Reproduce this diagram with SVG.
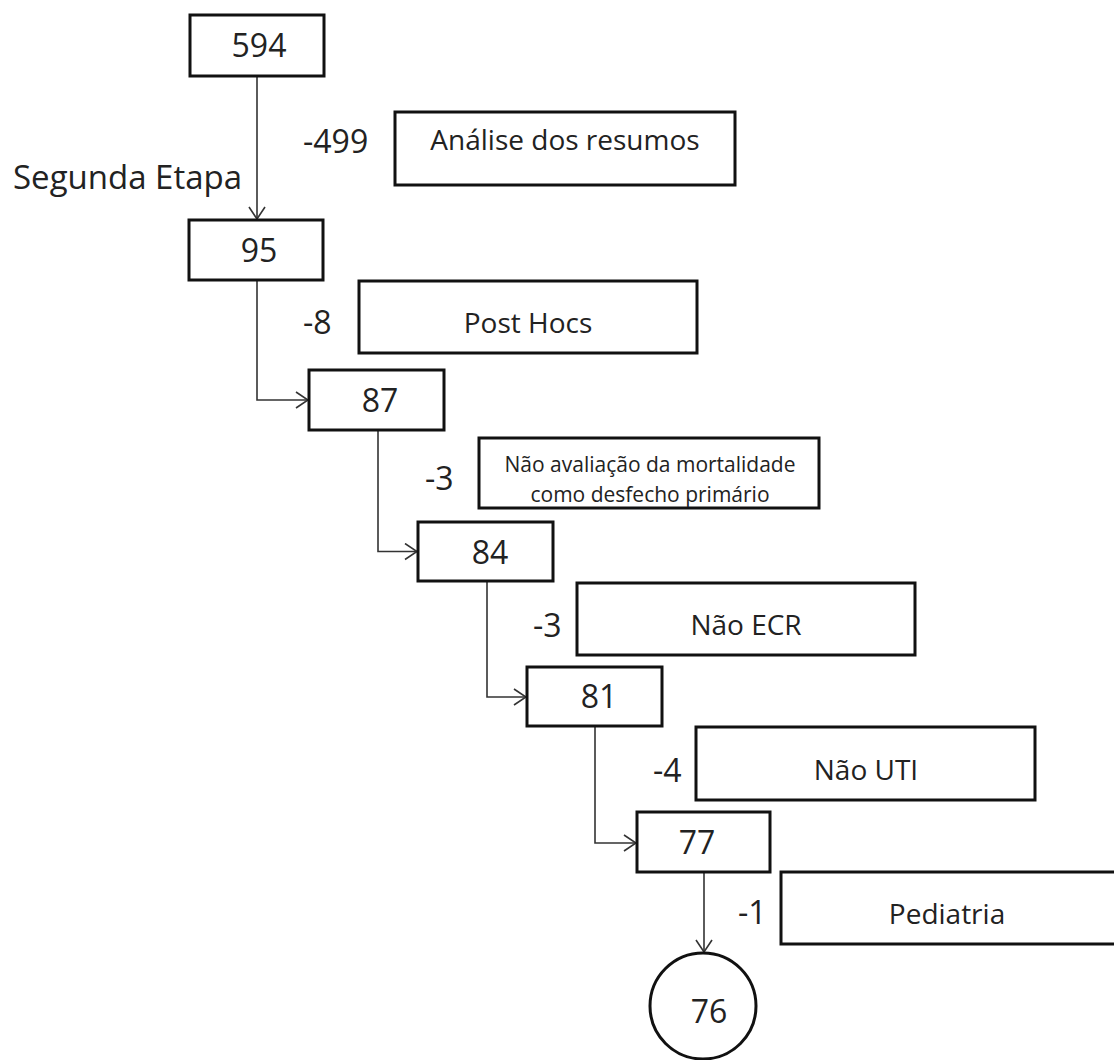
<svg xmlns="http://www.w3.org/2000/svg" width="1114" height="1060" viewBox="0 0 1114 1060">
<style>
.box{fill:#fff;stroke:#111;stroke-width:3}
.con{fill:none;stroke:#333;stroke-width:1.6}
.num{font-family:"Open Sans","Noto Sans",sans-serif;font-size:32px;fill:#222}
.lbl{font-family:"Open Sans","Noto Sans",sans-serif;font-size:28px;fill:#222;text-anchor:middle}
.sml{font-family:"Open Sans","Noto Sans",sans-serif;font-size:21px;fill:#222;text-anchor:middle}
.mid{text-anchor:middle}
</style>
<defs>
<marker id="arr" viewBox="0 0 14 18" refX="13" refY="9" markerWidth="14" markerHeight="18" markerUnits="userSpaceOnUse" orient="auto">
<path d="M1,1 L13,9 L1,17" fill="none" stroke="#333" stroke-width="1.6"/>
</marker>
</defs>
<rect width="1114" height="1060" fill="#fff"/>
<g id="connectors">
<path class="con" d="M257,76 V219" marker-end="url(#arr)"/>
<path class="con" d="M257,280 V400 H308" marker-end="url(#arr)"/>
<path class="con" d="M378,430 V551.5 H417" marker-end="url(#arr)"/>
<path class="con" d="M487,581 V697 H526" marker-end="url(#arr)"/>
<path class="con" d="M595,726 V843 H636" marker-end="url(#arr)"/>
<path class="con" d="M704,872 V952" marker-end="url(#arr)"/>
</g>
<g id="n594"><rect class="box" x="190" y="15" width="134" height="61"/><text class="num mid" x="259" y="57">594</text></g>
<g id="n95"><rect class="box" x="189" y="220" width="134" height="60"/><text class="num mid" x="259" y="262">95</text></g>
<g id="n87"><rect class="box" x="309" y="370" width="135" height="60"/><text class="num mid" x="380" y="412">87</text></g>
<g id="n84"><rect class="box" x="418" y="522" width="135" height="59"/><text class="num mid" x="490" y="564">84</text></g>
<g id="n81"><rect class="box" x="527" y="667" width="135" height="59"/><text class="num mid" x="599" y="708">81</text></g>
<g id="n77"><rect class="box" x="637" y="812" width="133" height="60"/><text class="num mid" x="697" y="854">77</text></g>
<g id="n76"><circle class="box" cx="703" cy="1006" r="53"/><text class="num mid" x="709" y="1023">76</text></g>
<g id="e1"><text class="num" x="303" y="153">-499</text><rect class="box" x="395" y="112" width="340" height="73"/><text class="lbl" x="565" y="150">Análise dos resumos</text></g>
<g id="stage"><text class="num" x="13" y="189" style="font-size:33px">Segunda Etapa</text></g>
<g id="e2"><text class="num" x="303" y="334">-8</text><rect class="box" x="359" y="281" width="338" height="72"/><text class="lbl" x="528" y="333">Post Hocs</text></g>
<g id="e3"><text class="num" x="425" y="490">-3</text><rect class="box" x="479" y="438" width="340" height="70"/><text class="sml" x="650" y="472">Não avaliação da mortalidade</text><text class="sml" x="650" y="502">como desfecho primário</text></g>
<g id="e4"><text class="num" x="533" y="637">-3</text><rect class="box" x="577" y="583" width="338" height="72"/><text class="lbl" x="746" y="635">Não ECR</text></g>
<g id="e5"><text class="num" x="653" y="782">-4</text><rect class="box" x="696" y="727" width="339" height="73"/><text class="lbl" x="866" y="780">Não UTI</text></g>
<g id="e6"><text class="num" x="738" y="924">-1</text><rect class="box" x="781" y="872" width="340" height="72"/><text class="lbl" x="947" y="924">Pediatria</text></g>
</svg>
